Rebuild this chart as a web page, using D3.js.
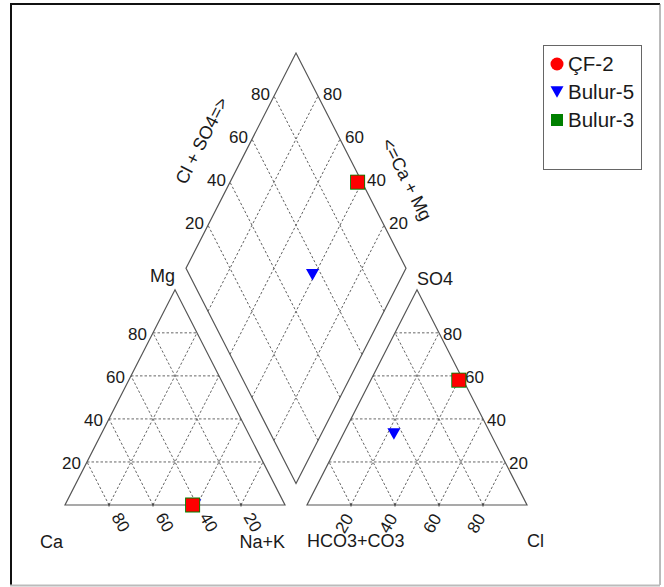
<!DOCTYPE html>
<html>
<head>
<meta charset="utf-8">
<script src="https://cdn.jsdelivr.net/npm/d3@7"></script>
<style>
  html, body { margin: 0; padding: 0; background: #fff; }
  svg { display: block; }
  text { font-family: Arial, "Liberation Sans", Helvetica, sans-serif; fill: #1a1a1a; }
</style>
</head>
<body>
<svg id="chart" width="664" height="587"></svg>
<script>
// Piper diagram: three water samples (percent of meq/L)
const samples   = ["ÇF-2", "Bulur-5", "Bulur-3"];
const caPct     = [42, 41, 42];
const mgPct     = [0, 0, 0];
const naKPct    = [58, 59, 58];
const hco3Pct   = [2, 44, 2];
const so4Pct    = [58, 33, 58];
const clPct     = [40, 23, 40];
const gridTicks = [20, 40, 60, 80];

const colors  = ["#ff0000", "#0000ff", "#008000"];
const shapes  = ["circle", "triangleDown", "square"];
const drawOrder = [1, 2, 0];

const S3 = Math.sqrt(3) / 2;
const GAP = 10;

const svg = d3.select("#chart");

// layout units: each triangle is 100 wide, the two are GAP apart
const x = d3.scaleLinear().domain([0, 210]).range([65, 527]);
const y = d3.scaleLinear().domain([0, 100]).range([505, 256.5]);

// coordinate helpers
const cat = (ca, mg, na) => [na + mg / 2, mg * S3];
const an  = (hc, so, cl) => [100 + GAP + cl + so / 2, so * S3];
const dia = (a, c) => [100 + GAP / 2 + 0.5 * a - 0.5 * c, GAP * S3 + S3 * (a + c)];
const P = d => [x(d[0]), y(d[1])];

const line = d3.line().x(d => x(d[0])).y(d => y(d[1]));

// frame
svg.append("line").attr("x1", 11).attr("y1", 4).attr("x2", 11).attr("y2", 585)
  .attr("stroke", "#111").attr("stroke-width", 2);
svg.append("line").attr("x1", 10).attr("y1", 4).attr("x2", 660).attr("y2", 4)
  .attr("stroke", "#111").attr("stroke-width", 2);
svg.append("line").attr("x1", 660).attr("y1", 4).attr("x2", 660).attr("y2", 585)
  .attr("stroke", "#777").attr("stroke-width", 1);
svg.append("line").attr("x1", 10).attr("y1", 585.5).attr("x2", 660).attr("y2", 585.5)
  .attr("stroke", "#bbb").attr("stroke-width", 2);

const grid = svg.append("g")
  .attr("fill", "none").attr("stroke", "#555")
  .attr("stroke-width", 0.9).attr("stroke-dasharray", "2.5,2");

gridTicks.forEach(v => {
  // cation triangle
  grid.append("path").attr("d", line([cat(100 - v, v, 0), cat(0, v, 100 - v)]));
  grid.append("path").attr("d", line([cat(v, 0, 100 - v), cat(v, 100 - v, 0)]));
  grid.append("path").attr("d", line([cat(100 - v, 0, v), cat(0, 100 - v, v)]));
  // anion triangle
  grid.append("path").attr("d", line([an(100 - v, v, 0), an(0, v, 100 - v)]));
  grid.append("path").attr("d", line([an(v, 0, 100 - v), an(v, 100 - v, 0)]));
  grid.append("path").attr("d", line([an(100 - v, 0, v), an(0, 100 - v, v)]));
  // diamond
  grid.append("path").attr("d", line([dia(v, 0), dia(v, 100)]));
  grid.append("path").attr("d", line([dia(0, v), dia(100, v)]));
});

// outlines
const outline = svg.append("g").attr("fill", "none").attr("stroke", "#555").attr("stroke-width", 1.2);
outline.append("path").attr("d", line([cat(100, 0, 0), cat(0, 0, 100), cat(0, 100, 0)]) + "Z");
outline.append("path").attr("d", line([an(100, 0, 0), an(0, 0, 100), an(0, 100, 0)]) + "Z");
outline.append("path").attr("d", line([dia(0, 0), dia(100, 0), dia(100, 100), dia(0, 100)]) + "Z");

// small ticks on the labelled base edges
const tickG = svg.append("g").attr("stroke", "#333").attr("stroke-width", 1);
gridTicks.forEach(v => {
  [cat(v, 0, 100 - v), an(100 - v, 0, v)].forEach(d => {
    const p = P(d);
    tickG.append("line").attr("x1", p[0]).attr("x2", p[0]).attr("y1", p[1] - 1.5).attr("y2", p[1] + 1.5);
  });
});

// tick labels
const tl = svg.append("g").attr("font-size", 17);
gridTicks.forEach(v => {
  let p = P(cat(100 - v, v, 0));
  tl.append("text").attr("x", p[0] - 6).attr("y", p[1] + 7.5).attr("text-anchor", "end").text(v);
  p = P(an(0, v, 100 - v));
  tl.append("text").attr("x", p[0] + 4).attr("y", p[1] + 7).text(v);
  p = P(cat(v, 0, 100 - v));
  tl.append("text").attr("transform", `translate(${p[0] + 2},${p[1] + 12}) rotate(60)`).text(v);
  p = P(an(100 - v, 0, v));
  tl.append("text").attr("transform", `translate(${p[0] + 3},${p[1] + 13}) rotate(-60)`)
    .attr("text-anchor", "end").text(v);
  p = P(dia(v, 100));
  tl.append("text").attr("x", p[0] - 4).attr("y", p[1] + 4).attr("text-anchor", "end").text(v);
  p = P(dia(100, v));
  tl.append("text").attr("x", p[0] + 5).attr("y", p[1] + 4).text(v);
});

// vertex labels
const vl = svg.append("g").attr("font-size", 18);
const vtx = (d, dx, dy, anchor, label) => {
  const p = P(d);
  vl.append("text").attr("x", p[0] + dx).attr("y", p[1] + dy).attr("text-anchor", anchor).text(label);
};
vtx(cat(0, 100, 0), 0, -8, "end", "Mg");
vtx(an(0, 100, 0), 0, -5, "start", "SO4");
vtx(cat(100, 0, 0), -2, 43, "end", "Ca");
vtx(cat(0, 0, 100), 0, 43, "end", "Na+K");
vtx(an(100, 0, 0), 0, 42, "start", "HCO3+CO3");
vtx(an(0, 0, 100), 0, 42, "start", "Cl");

// diamond axis titles, set along the upper edges
function edgeTitle(d0, d1, along, normal, label) {
  const p0 = P(d0), p1 = P(d1);
  const dx = p1[0] - p0[0], dy = p1[1] - p0[1], len = Math.hypot(dx, dy);
  const ux = dx / len, uy = dy / len;
  let nx = uy, ny = -ux;
  if (ny > 0) { nx = -nx; ny = -ny; }
  const cx = (p0[0] + p1[0]) / 2 + ux * along + nx * normal;
  const cy = (p0[1] + p1[1]) / 2 + uy * along + ny * normal;
  const ang = Math.atan2(dy, dx) * 180 / Math.PI;
  svg.append("text").attr("font-size", 18)
    .attr("transform", `translate(${cx},${cy}) rotate(${ang})`)
    .attr("text-anchor", "middle").attr("dominant-baseline", "central")
    .text(label);
}
edgeTitle(dia(0, 100), dia(100, 100), 0, 44, "Cl + SO4=>");
edgeTitle(dia(100, 100), dia(100, 0), 42, 41, "<=Ca + Mg");

// marker shapes
function marker(g, shape, color, s) {
  if (shape === "circle") {
    g.append("circle").attr("r", s / 2).attr("fill", color);
  } else if (shape === "triangleDown") {
    const h = s * 0.9;
    g.append("path").attr("d", `M${-s / 2},${-h / 2}L${s / 2},${-h / 2}L0,${h / 2}Z`).attr("fill", color);
  } else {
    g.append("rect").attr("x", -s / 2).attr("y", -s / 2).attr("width", s).attr("height", s).attr("fill", color);
  }
}

// clip that trims the large sample circles to the overlapping square
svg.append("defs").append("clipPath").attr("id", "mk")
  .append("rect").attr("x", -6.6).attr("y", -6.6).attr("width", 13.2).attr("height", 13.2);

const pts = svg.append("g");
drawOrder.forEach(i => {
  const positions = [
    cat(caPct[i], mgPct[i], naKPct[i]),
    an(hco3Pct[i], so4Pct[i], clPct[i]),
    dia(so4Pct[i] + clPct[i], caPct[i] + mgPct[i])
  ];
  positions.forEach(d => {
    const p = P(d);
    const g = pts.append("g").attr("transform", `translate(${p[0]},${p[1]})`);
    if (shapes[i] === "circle") {
      g.attr("clip-path", "url(#mk)");
      marker(g, "circle", colors[i], 19);
    } else if (shapes[i] === "square") {
      marker(g, "square", colors[i], 15);
    } else {
      marker(g, shapes[i], colors[i], 13);
    }
  });
});

// legend
const lg = svg.append("g");
lg.append("rect").attr("x", 543.5).attr("y", 45.5).attr("width", 98).attr("height", 124)
  .attr("fill", "#fff").attr("stroke", "#666").attr("stroke-width", 1);
const legendSizes = [13, 13, 12];
samples.forEach((name, i) => {
  const cy = 64 + i * 28;
  const g = lg.append("g").attr("transform", `translate(557,${cy})`);
  marker(g, shapes[i], colors[i], legendSizes[i]);
  lg.append("text").attr("x", 568).attr("y", cy + 7).attr("font-size", 20.5).text(name);
});
</script>
</body>
</html>
